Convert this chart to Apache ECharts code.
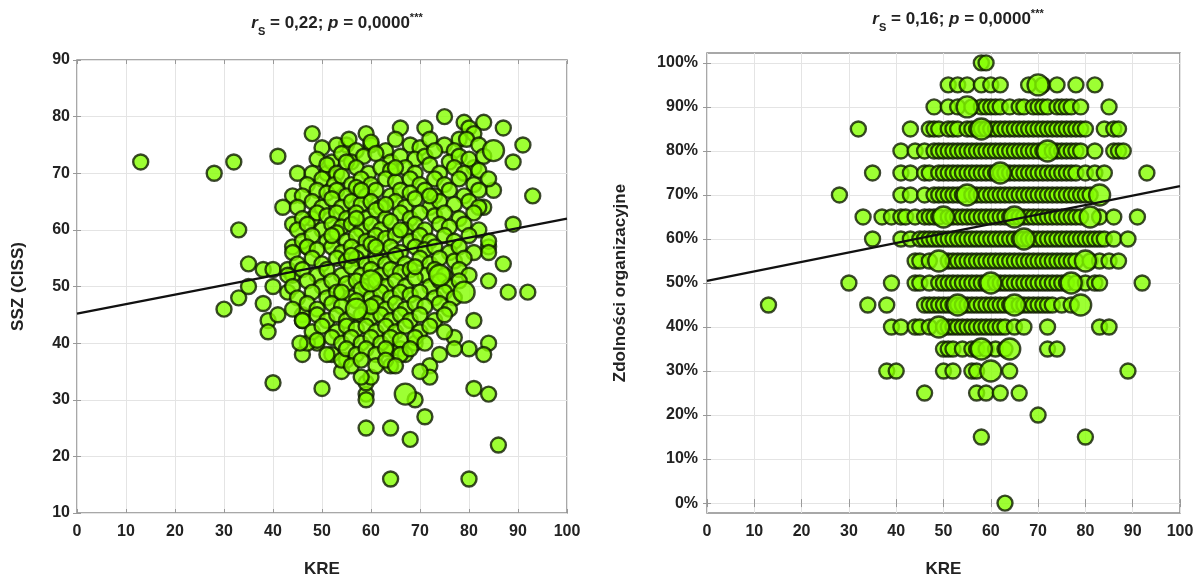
<!DOCTYPE html>
<html>
<head>
<meta charset="utf-8">
<script src="https://cdn.jsdelivr.net/npm/echarts@6/dist/echarts.min.js"></script>
<style>html,body{margin:0;padding:0;background:#fff}#c{width:1200px;height:583px}</style>
</head>
<body>
<div id="c"></div>
<script>
// ---------- Left panel: KRE vs SSZ (CISS) ----------
const leftXTicks = [0,10,20,30,40,50,60,70,80,90,100];
const leftYTicks = [10,20,30,40,50,60,70,80,90];
// scattered cases around the cloud
const leftOuter = [
 [13,72],[28,70],[32,72],[41,73],[48,77],[33,60],[35,54],[30,46],[33,48],[35,50],[38,53],[40,53],
 [38,47],[39,44],[39,42],[41,45],[40,33],[50,32],[46,38],[49,40],[47,40],[45,70],[44,66],[42,64],
 [44,61],[48,62],[44,57],[47,57],[43,53],[44,52],[43,49],[46,45],[46,44],[75,80],[79,79],[83,79],
 [87,78],[91,75],[89,72],[93,66],[89,61],[87,54],[88,49],[92,49],[84,51],[84,57],[84,40],[83,38],
 [80,39],[77,41],[81,44],[81,32],[84,31],[86,22],[80,16],[64,16],[59,25],[64,25],[68,23],[71,27],
 [69,30],[72,36],[72,34],[70,35],[59,31],[59,33],[60,34],[54,35],[55,37],[52,38],[64,36],[59,77],
 [66,78],[71,78],[60,75],[55,75],[80,78],[85,67],[83,64],[81,71],[78,76],[81,77],[84,58],[84,56],
 [45.5,40],[54,37],[58,34],[59,30],[74,38],[77,39],[64,39],[66,39],[67,38],[69,40],[51,70],[40,50]
];
// cases counted twice (drawn as bigger dots)
const leftDouble = [[85,74],[67,31],[79,49],[74,52],[60,51],[57,46]];
// dense core of the cloud
const leftCore = [
 [50,74.5],[53,75],[55.5,76],[57,74],[60,75.5],[63,74],[65,76],[68,75],[70,74.5],[72,76],[75,75],[77,74],[79.5,76],[82,75],
 [49,72.5],[52,72],[54,73.5],[56,72],[58.5,73],[61,73.5],[64,72],[66,73],[69,72.5],[71,73],[73,74],[76,72],[78,73],[80,72.5],[83,73],
 [48,70],[51,71.5],[53,70],[55,72],[57,71],[59.5,70],[62,71],[64,70.5],[67,71],[69,70],[72,71.5],[74,70],[77,71],[79,70],[82,70.5],
 [47,68],[50,69],[52.5,68],[54,69.5],[56,68],[58,69],[60,68],[63,69],[65,68.5],[68,69],[70,68],[73,69],[75,68],[78,69],[81,68],[84,69],
 [46,66],[49,67],[51,66.5],[53,67],[55,66],[57,67.5],[59,66],[61,67],[64,66],[66,67],[68,66.5],[71,67],[73,66],[76,67],[79,66],[82,67],
 [45,64],[48,65],[50,64],[52,65.5],[54,64],[56,65],[58,64.5],[60,65],[62,64],[65,65],[67,64],[69,65.5],[72,64],[74,65],[77,64.5],[80,65],[82,64],
 [46,62],[49,63],[51,62.5],[53,63],[55,62],[57,63],[59,62],[61,63.5],[63,62],[66,63],[68,62],[70,63],[73,62.5],[75,63],[78,62],[81,63],
 [45,60],[47,61],[50,60],[52,61],[54,60.5],[56,61],[58,60],[60,61],[62,60],[64,61.5],[67,60],[69,61],[71,60],[74,61],[76,60.5],[79,61],[82,60],
 [46,58],[48,59],[51,58],[53,59.5],[55,58],[57,59],[59,58],[61,59],[63,58.5],[65,59],[68,58],[70,59],[72,58],[75,59],[77,58],[80,59],
 [44,56],[47,57],[49,56.5],[52,57],[54,56],[56,57],[58,56],[60,57.5],[62,56],[64,57],[66,56],[69,57],[71,56.5],[73,57],[76,56],[78,57],[81,56],
 [45,54],[48,55],[50,54],[53,55],[55,54.5],[57,55],[59,54],[61,55],[63,54],[65,55.5],[67,54],[70,55],[72,54],[74,55],[77,54.5],[79,55],
 [43,52],[46,53],[49,52],[51,53],[54,52],[56,53.5],[58,52],[60,53],[62,52],[64,53],[66,52.5],[68,53],[71,52],[73,53],[75,52],[78,53],[80,52],
 [44,50],[47,51],[50,50],[52,51],[55,50.5],[57,51],[59,50],[61,51],[63,50],[65,51],[67,50],[69,51.5],[72,50],[74,51],[76,50],[78,51],
 [45,48],[48,49],[51,48],[53,49],[56,48],[58,49.5],[60,48],[62,49],[64,48],[66,49],[68,48.5],[70,49],[73,48],[75,49],[77,48],
 [44,46],[47,47],[49,46],[52,47],[54,46.5],[57,47.5],[59,46],[61,47],[63,46],[65,47],[67,46],[69,47],[71,46.5],[74,47],[76,46],
 [46,44],[49,45],[51,44],[53,45],[55,44],[58,45],[60,44.5],[62,45],[64,44],[66,45],[68,44],[70,45],[73,44],[75,45],
 [48,42],[50,43],[53,42],[55,43],[57,42.5],[59,43],[61,42],[63,43],[65,42],[67,43],[70,42],[72,43],[75,42],
 [49,40.5],[52,41],[54,40],[56,41],[58,40],[60,41],[62,40],[64,41],[66,40.5],[69,41],[71,40],
 [51,38],[55,39],[57,38],[59,39],[61,38],[63,39],[66,38],[68,39],
 [56,36],[58,37],[61,36],[63,37],[65,36],
 [56,55.5],[61,57],[63,64.5],[58,67],[66,60],[54,49],[69,53.5],[60,46.5],[65,71],[72,66],[52,59],[57,62]
];
const leftFit = [[0,45.2],[100,62]];

// ---------- Right panel: KRE vs Zdolności organizacyjne (%) ----------
const rightXTicks = [0,10,20,30,40,50,60,70,80,90,100];
const rightYTicks = [0,10,20,30,40,50,60,70,80,90,100];
// each row: [percent, KRE values]
const rightRows = [
 [100,[58,59]],
 [95,[51,53,55,58,60,62,68,71,74,78,82]],
 [90,[48,51,53,56,58,59,60,61,62,64,66,67,69,70,71,72,74,75,76,77,79,85]],
 [85,[32,43,47,48,49,51,52,53,55,56,57,58,59,60,61,62,63,64,65,66,67,68,69,70,71,72,73,74,75,76,77,78,79,80,84,86,87]],
 [80,[41,44,46,48,49,50,51,52,53,54,55,56,57,58,59,60,61,62,63,64,65,66,67,68,69,70,71,73,74,75,76,77,78,79,82,86,87,88]],
 [75,[35,41,43,46,47,49,50,51,52,53,54,55,56,57,58,59,60,61,62,63,64,65,66,67,68,69,70,71,72,73,74,75,76,77,78,80,82,84,93]],
 [70,[28,41,43,46,48,49,50,51,52,53,54,56,57,58,59,60,61,62,63,64,65,66,67,68,69,70,71,72,73,74,75,76,77,78,79,80,81]],
 [65,[33,37,39,41,42,44,46,47,48,49,51,52,53,54,55,56,57,58,59,60,61,62,63,64,65,66,67,68,69,70,71,72,73,74,75,76,77,78,79,83,86,91]],
 [60,[35,41,43,45,46,47,48,49,50,51,52,53,54,55,56,57,58,59,60,61,62,63,64,65,66,67,68,69,70,71,72,73,74,75,76,77,78,79,80,81,82,83,84,86,89]],
 [55,[44,45,47,51,52,53,54,55,56,57,58,59,60,61,62,63,64,65,66,67,68,69,70,71,72,73,74,75,76,77,78,81,83,85,87]],
 [50,[30,39,44,45,47,49,50,51,52,53,54,55,56,57,58,59,61,62,63,64,65,66,67,68,69,70,71,72,73,74,75,76,78,80,82,83,92]],
 [45,[13,34,38,46,47,48,49,50,51,52,53,54,55,56,57,58,59,60,61,62,63,64,66,67,68,69,70,71,72,73,75,77]],
 [40,[39,41,44,45,47,50,51,52,53,54,55,56,57,58,59,60,61,62,63,65,67,72,83,85]],
 [35,[50,51,52,54,56,57,59,61,63,72,74]],
 [30,[38,40,50,52,56,57,64,89]],
 [25,[46,57,59,62,66]],
 [20,[70]],
 [15,[58,80]],
 [0,[63]]
];
// cases counted twice (bigger dots): [KRE, percent]
const rightDouble = [[70,95],[55,90],[72,80],[55,70],[83,70],[50,65],[81,65],[49,55],[80,55],[60,50],[77,50],[65,45],[79,45],[49,40],[58,35],[64,35],[60,30],
 [62,75],[67,60],[58,85],[65,65],[53,45]];
const rightFit = [[0,50.5],[100,72]];

// ---------- build series data ----------
const leftData = leftOuter.concat(leftCore).map(p => [p[0], p[1], 1])
  .concat(leftDouble.map(p => [p[0], p[1], 2]));
const rightData = [];
rightRows.forEach(r => r[1].forEach(x => rightData.push([x, r[0], 1])));
rightDouble.forEach(p => rightData.push([p[0], p[1], 2]));

const FONT = "'Liberation Sans', Arial, sans-serif";
const TXT = '#222';
const dotStyle = { color: '#84ff00', borderColor: '#0e1a00', borderWidth: 2.4 };
const dotSize = v => v[2] > 1 ? 21 : 15;

function mainX(grid, ticks) {
  return { type: 'value', gridIndex: grid, min: 0, max: 100, interval: 10,
    name: 'KRE', nameLocation: 'middle', nameGap: 48,
    nameTextStyle: { fontFamily: FONT, fontWeight: 'bold', fontSize: 17, color: TXT },
    axisLine: { show: false },
    axisTick: { show: true, inside: true, length: 4, lineStyle: { color: '#999' } },
    axisLabel: { margin: 11, fontFamily: FONT, fontWeight: 'bold', fontSize: 16, color: TXT, customValues: ticks },
    splitLine: { show: true, lineStyle: { color: '#e4e4e4', width: 1 } } };
}
function mirrorX(grid) {
  return { type: 'value', gridIndex: grid, min: 0, max: 100, interval: 10, position: 'top',
    axisLine: { show: false }, axisLabel: { show: false }, splitLine: { show: false },
    axisTick: { show: true, inside: true, length: 4, lineStyle: { color: '#999' } } };
}

const option = {
  animation: false,
  backgroundColor: '#fff',
  title: [
    { text: '{i|r}{s|S}{n| = 0,22; }{i|p}{n| = 0,0000}{st|***}', left: 332, top: 7, textAlign: 'center',
      textStyle: { rich: {} } },
    { text: '{i|r}{s|S}{n| = 0,16; }{i|p}{n| = 0,0000}{st|***}', left: 953, top: 3, textAlign: 'center',
      textStyle: { rich: {} } }
  ],
  grid: [
    { left: 77, top: 60, width: 490, height: 458, show: true, borderColor: '#8c8c8c', borderWidth: 1.5, backgroundColor: '#fff' },
    { left: 707, top: 53, width: 473, height: 465, show: true, borderColor: '#8c8c8c', borderWidth: 1.5, backgroundColor: '#fff' }
  ],
  xAxis: [ mainX(0, leftXTicks), mirrorX(0), mainX(1, rightXTicks), mirrorX(1) ],
  yAxis: [
    { type: 'value', gridIndex: 0, min: 10, max: 90, interval: 10,
      name: 'SSZ (CISS)', nameLocation: 'middle', nameGap: 50,
      nameTextStyle: { fontFamily: FONT, fontWeight: 'bold', fontSize: 17, color: TXT },
      axisLine: { show: false },
      axisTick: { show: true, inside: true, length: 4, lineStyle: { color: '#999' } },
      axisLabel: { margin: 7, fontFamily: FONT, fontWeight: 'bold', fontSize: 16, color: TXT, customValues: leftYTicks },
      splitLine: { show: true, lineStyle: { color: '#e4e4e4', width: 1 } } },
    { type: 'value', gridIndex: 0, min: 10, max: 90, interval: 10, position: 'right',
      axisLine: { show: false }, axisLabel: { show: false }, splitLine: { show: false },
      axisTick: { show: true, inside: true, length: 4, lineStyle: { color: '#999' } } },
    { type: 'value', gridIndex: 1, min: -2.25, max: 102.25,
      name: 'Zdolności organizacyjne', nameLocation: 'middle', nameGap: 78,
      nameTextStyle: { fontFamily: FONT, fontWeight: 'bold', fontSize: 17, color: TXT },
      axisLine: { show: false },
      axisTick: { show: true, inside: true, length: 4, lineStyle: { color: '#999' }, customValues: rightYTicks },
      axisLabel: { margin: 9, fontFamily: FONT, fontWeight: 'bold', fontSize: 16, color: TXT,
        customValues: rightYTicks, formatter: v => Math.round(v) + '%' },
      splitLine: { show: true, lineStyle: { color: '#e4e4e4', width: 1 } } },
    { type: 'value', gridIndex: 1, min: -2.25, max: 102.25, position: 'right',
      axisLine: { show: false }, axisLabel: { show: false }, splitLine: { show: false },
      axisTick: { show: true, inside: true, length: 4, lineStyle: { color: '#999' }, customValues: rightYTicks } }
  ],
  series: [
    { type: 'scatter', xAxisIndex: 0, yAxisIndex: 0, data: leftData, symbolSize: dotSize, itemStyle: dotStyle, z: 2 },
    { type: 'line', xAxisIndex: 0, yAxisIndex: 0, data: leftFit, symbol: 'none', lineStyle: { color: '#111', width: 2.2 }, z: 5 },
    { type: 'scatter', xAxisIndex: 2, yAxisIndex: 2, data: rightData, symbolSize: dotSize, itemStyle: dotStyle, z: 2 },
    { type: 'line', xAxisIndex: 2, yAxisIndex: 2, data: rightFit, symbol: 'none', lineStyle: { color: '#111', width: 2.2 }, z: 5 }
  ]
};
const rich = {
  i: { fontFamily: FONT, fontWeight: 'bold', fontStyle: 'italic', fontSize: 17, color: TXT, lineHeight: 22 },
  n: { fontFamily: FONT, fontWeight: 'bold', fontSize: 17, color: TXT, lineHeight: 22 },
  s: { fontFamily: FONT, fontWeight: 'bold', fontSize: 11, color: TXT, lineHeight: 10, verticalAlign: 'bottom', padding: [0,0,-3,0] },
  st: { fontFamily: FONT, fontWeight: 'bold', fontSize: 11, color: TXT, lineHeight: 10, verticalAlign: 'top' }
};
option.title.forEach(t => { t.textStyle.rich = rich; });
echarts.init(document.getElementById('c'), null, { renderer: 'canvas' }).setOption(option);
</script>
</body>
</html>
